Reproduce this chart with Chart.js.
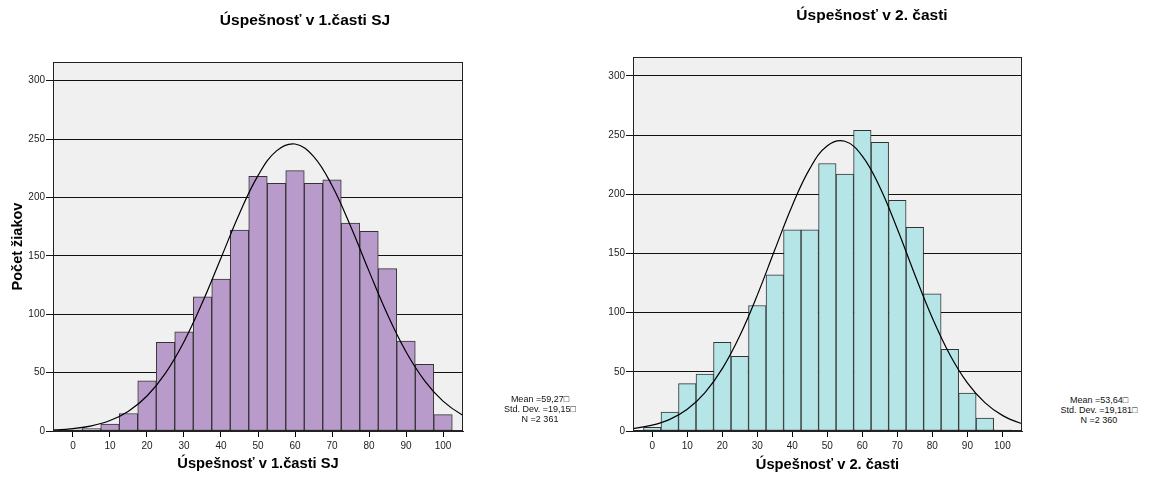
<!DOCTYPE html>
<html><head><meta charset="utf-8">
<script src="https://cdn.jsdelivr.net/npm/chart.js@4.4.1/dist/chart.umd.min.js"></script>
<style>
html,body{margin:0;padding:0;background:#fff;width:1152px;height:479px;overflow:hidden;font-family:"Liberation Sans",Arial,sans-serif;}
.box{position:absolute;top:0;height:479px;width:480px;}
.box canvas{display:block}
.t{position:absolute;font-weight:bold;font-size:15.5px;line-height:16px;white-space:nowrap;transform:translate(-50%,-50%);color:#000}
.s{position:absolute;font-size:9px;line-height:10px;text-align:center;transform:translateX(-50%);white-space:nowrap;color:#111}
</style></head><body>
<div class="box" style="left:0"><canvas id="c1" width="480" height="479"></canvas></div>
<div class="box" style="left:560px"><canvas id="c2" width="480" height="479"></canvas></div>
<div class="t" style="left:305px;top:20px">Úspešnosť v 1.časti SJ</div>
<div class="t" style="left:872px;top:15px">Úspešnosť v 2. časti</div>
<div class="s" style="left:540px;top:394px">Mean =59,27□<br>Std. Dev. =19,15□<br>N =2 361</div>
<div class="s" style="left:1099px;top:395px">Mean =53,64□<br>Std. Dev. =19,181□<br>N =2 360</div>
<script>
// ---- data ----
const bins = [0,5,10,15,20,25,30,35,40,45,50,55,60,65,70,75,80,85,90,95,100];
const counts1 = [1,2,6,15,43,76,85,115,130,172,218,212,223,212,215,178,171,139,77,57,14];
const counts2 = [3,16,40,48,75,63,106,132,170,170,226,217,254,244,195,172,116,69,32,11,1];
const curveX = [-10,-5,0,5,10,15,20,25,30,35,40,45,50,55,60,65,70,75,80,85,90,95,100,105,110];
const curve1 = [0.36,0.88,2.05,4.43,8.99,17.0,30.0,49.6,76.5,110.2,148.2,186.3,218.7,239.9,245.8,235.2,210.2,175.5,136.9,99.7,67.9,43.2,25.6,14.2,7.4];
const curve2 = [1.0,2.29,4.92,9.85,18.4,32.3,52.7,80.5,114.8,153.1,190.6,221.7,241.0,244.8,232.3,205.9,170.6,132.0,95.5,64.5,40.7,24.0,13.2,6.8,3.3];
const xTicks = [0,10,20,30,40,50,60,70,80,90,100];
const yTicks = [0,50,100,150,200,250,300];
const xTitle1 = 'Úspešnosť v 1.časti SJ';
const xTitle2 = 'Úspešnosť v 2. časti';
const yTitle = 'Počet žiakov';

const FONT = '"Liberation Sans", Arial, sans-serif';

const areaPlugin = {
  id: 'area',
  beforeDraw(chart) {
    const {ctx, chartArea: a} = chart;
    ctx.save();
    ctx.fillStyle = '#f0f0f0';
    ctx.fillRect(a.left, a.top, a.right - a.left, a.bottom - a.top);
    ctx.restore();
  },
  afterDraw(chart) {
    const {ctx, chartArea: a} = chart;
    ctx.save();
    ctx.strokeStyle = '#222';
    ctx.lineWidth = 1;
    ctx.strokeRect(Math.round(a.left) + 0.5, Math.round(a.top) + 0.5, Math.round(a.right - a.left) - 1, Math.round(a.bottom - a.top) - 1);
    ctx.restore();
  }
};

function makeChart(id, counts, curve, color, cfg) {
  return new Chart(document.getElementById(id), {
    type: 'bar',
    data: {
      datasets: [
        {
          type: 'line',
          data: curveX.map((x, i) => ({x: x, y: curve[i]})),
          borderColor: '#000', borderWidth: 1.2, pointRadius: 0, tension: 0.4,
          fill: false, order: 0
        },
        {
          type: 'bar',
          data: bins.map((x, i) => ({x: x, y: counts[i]})),
          backgroundColor: color, borderColor: '#333', borderWidth: 1,
          barPercentage: 1, categoryPercentage: 1, order: 1, borderSkipped: false
        }
      ]
    },
    options: {
      responsive: false, animation: false, devicePixelRatio: 1,
      layout: {padding: {top: cfg.top, right: cfg.right, left: 0, bottom: 0}},
      plugins: {legend: {display: false}, tooltip: {enabled: false}},
      scales: {
        x: {
          type: 'linear', min: cfg.xmin, max: cfg.xmax, offset: false,
          afterBuildTicks: s => { s.ticks = xTicks.map(v => ({value: v})); },
          afterFit: s => { s.height = 48; },
          grid: {drawOnChartArea: false, drawTicks: true, tickLength: 6, color: '#000', offset: false},
          border: {display: true, color: '#222'},
          ticks: {font: {family: FONT, size: 10}, color: '#222', padding: 3, maxRotation: 0, autoSkip: false},
          title: {display: true, text: cfg.xTitle, font: {family: FONT, size: 14.7, weight: 'bold'}, color: '#000', padding: {top: 0, bottom: cfg.xtb}}
        },
        y: {
          type: 'linear', min: 0, max: 316,
          afterBuildTicks: s => { s.ticks = yTicks.map(v => ({value: v})); },
          afterFit: s => { s.width = cfg.yw; },
          grid: {color: '#111', lineWidth: 1, tickLength: 7, drawTicks: true},
          border: {display: true, color: '#222'},
          ticks: {font: {family: FONT, size: 10}, color: '#222', padding: 1},
          title: {display: cfg.showY, text: yTitle, font: {family: FONT, size: 14.5, weight: 'bold'}, color: '#000', padding: {top: 9, bottom: 0}}
        }
      }
    },
    plugins: [areaPlugin]
  });
}

makeChart('c1', counts1, curve1, '#b89bca', {top: 62, right: 17, yw: 53, xmin: -5.4, xmax: 105.4, xTitle: xTitle1, xtb: 6, showY: true});
makeChart('c2', counts2, curve2, '#b5e5e6', {top: 57, right: 18, yw: 73, xmin: -5.5, xmax: 105.6, xTitle: xTitle2, xtb: 5, showY: false});
</script>
</body></html>
